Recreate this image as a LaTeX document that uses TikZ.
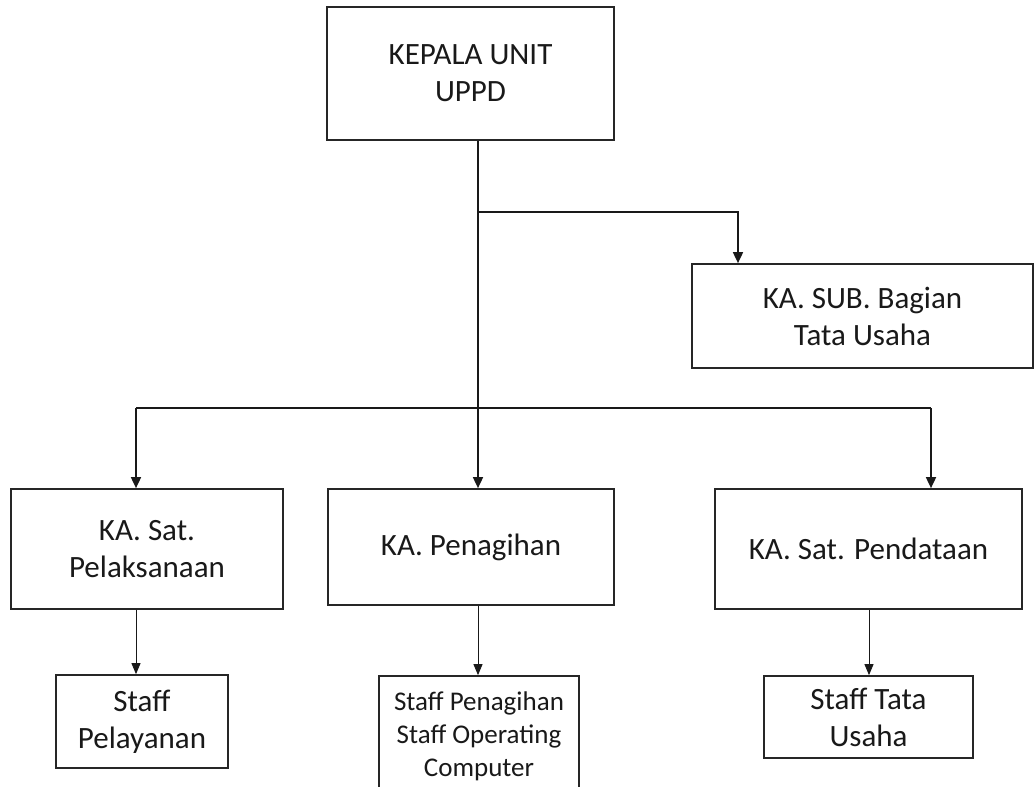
\documentclass[tikz,border=0pt]{standalone}
\usepackage{fontspec}
\setmainfont{Carlito}
\usetikzlibrary{arrows.meta}
\begin{document}
\begin{tikzpicture}[x=1pt,y=-1pt,
  box/.style={draw=black!85, line width=1.7pt, rectangle, inner sep=0pt, align=center,
    font=\fontsize{31}{37}\selectfont, text=black!90},
  smallbox/.style={box, font=\fontsize{27}{33}\selectfont},
  mainarr/.style={draw=black!90, line width=1.7pt, -{Triangle[length=11pt,width=10pt]}},
  mainline/.style={draw=black!90, line width=1.7pt},
  childarr/.style={draw=black!90, line width=0.9pt, -{Triangle[length=11pt,width=9pt]}}]
\useasboundingbox (0,0) rectangle (1034,787);
\clip (0,0) rectangle (1034,787);

\node[box, minimum width=287pt, minimum height=133pt] (top) at (470.5,73.5) {KEPALA UNIT\\UPPD};
\node[box, minimum width=341pt, minimum height=104pt] (sub) at (862.5,316) {KA. SUB. Bagian\\Tata Usaha};
\node[box, minimum width=272pt, minimum height=120pt] (left) at (147,549) {KA. Sat.\\Pelaksanaan};
\node[box, minimum width=286pt, minimum height=116pt] (mid) at (471,547) {KA. Penagihan};
\node[box, minimum width=307pt, minimum height=120pt] (right) at (868.5,549) {KA. Sat. Pendataan};
\node[box, minimum width=172pt, minimum height=93pt] (spel) at (142,721.5) {Staff\\Pelayanan};
\node[smallbox, minimum width=200pt, minimum height=120pt] (spen) at (479,736) {Staff Penagihan\\Staff Operating\\Computer};
\node[box, minimum width=209pt, minimum height=82pt] (stu) at (868.5,717) {Staff Tata\\Usaha};

\coordinate (b1) at (478,212);
\coordinate (b2) at (478,408);
\coordinate (lx) at (136,408);
\coordinate (rx) at (931,408);
\coordinate (sx) at (738,212);

% trunk
\draw[mainarr] (top.south -| b1) -- (mid.north -| b1);
% branch to sub
\draw[mainarr] (b1) -- (sx) -- (sub.north -| sx);
% horizontal bar
\draw[mainline] (lx) -- (rx);
\draw[mainarr] (lx) -- (left.north -| lx);
\draw[mainarr] (rx) -- (right.north -| rx);
% children
\draw[childarr] (left.south -| lx) -- (spel.north -| lx);
\draw[childarr] (mid.south -| b1) -- (spen.north -| b1);
\draw[childarr] ([xshift=0.5pt]right.south) -- ([xshift=0.5pt]right.south |- stu.north);
\end{tikzpicture}
\end{document}
